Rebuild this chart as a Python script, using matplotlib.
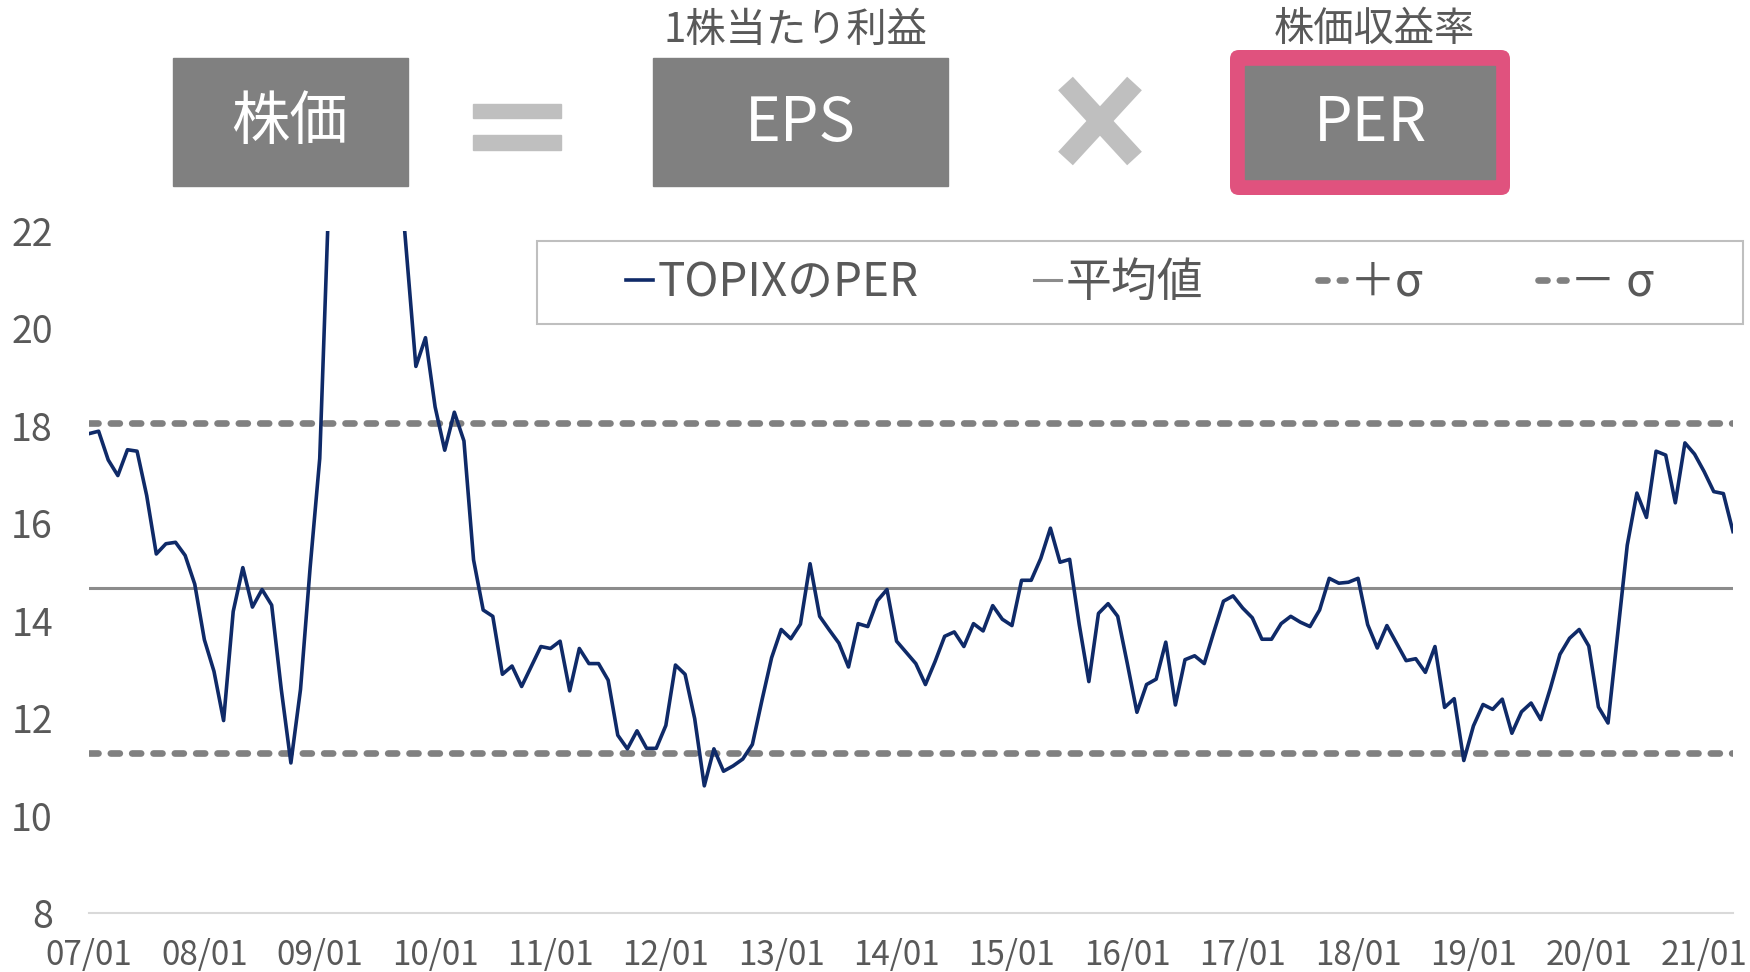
import numpy as np
import matplotlib
matplotlib.use('Agg')
import matplotlib.pyplot as plt
from matplotlib.patches import Rectangle, FancyBboxPatch
from matplotlib.lines import Line2D

plt.rcParams['font.family'] = ['Noto Sans CJK JP', 'DejaVu Sans']

#----data (monthly, 2007/01 - 2021/04)----#
per_values = [
    17.84, 17.89, 17.30, 16.98, 17.51, 17.48, 16.57, 15.37, 15.58, 15.61, 15.34, 14.75,
    13.61, 12.96, 11.95, 14.19, 15.09, 14.28, 14.64, 14.32, 12.59, 11.08, 12.59, 15.09,
    17.33, 23.0, 30.0, 42.0, 55.0, 48.0, 38.0, 30.0, 24.0, 21.6, 19.22, 19.81,
    18.39, 17.50, 18.28, 17.69, 15.25, 14.22, 14.09, 12.90, 13.07, 12.65, 13.06, 13.47,
    13.43, 13.58, 12.56, 13.43, 13.12, 13.12, 12.78, 11.65, 11.37, 11.74, 11.38, 11.38,
    11.85, 13.09, 12.90, 11.99, 10.61, 11.37, 10.91, 11.02, 11.16, 11.46, 12.37, 13.24,
    13.82, 13.63, 13.93, 15.17, 14.09, 13.81, 13.54, 13.05, 13.94, 13.88, 14.41, 14.64,
    13.58, 13.35, 13.12, 12.69, 13.16, 13.68, 13.77, 13.47, 13.94, 13.79, 14.31, 14.03,
    13.90, 14.83, 14.83, 15.28, 15.90, 15.20, 15.26, 13.92, 12.75, 14.15, 14.35, 14.09,
    13.12, 12.12, 12.69, 12.80, 13.56, 12.27, 13.20, 13.28, 13.12, 13.77, 14.40, 14.51,
    14.26, 14.06, 13.62, 13.62, 13.94, 14.09, 13.97, 13.88, 14.22, 14.87, 14.77, 14.79,
    14.87, 13.92, 13.44, 13.90, 13.54, 13.18, 13.22, 12.94, 13.47, 12.22, 12.40, 11.13,
    11.84, 12.28, 12.18, 12.39, 11.69, 12.13, 12.31, 11.97, 12.61, 13.31, 13.64, 13.82,
    13.48, 12.23, 11.90, 13.72, 15.55, 16.62, 16.12, 17.48, 17.40, 16.42, 17.65, 17.42,
    17.06, 16.65, 16.61, 15.83,
]
year_labels = ['07/01', '08/01', '09/01', '10/01', '11/01', '12/01', '13/01', '14/01',
               '15/01', '16/01', '17/01', '18/01', '19/01', '20/01', '21/01']
per_mean = 14.67
per_sigma = 3.39
y_ticks = [8, 10, 12, 14, 16, 18, 20, 22]
legend_labels = ['TOPIXのPER', '平均値', '＋σ', '－ σ']

#----figure and main chart----#
W, H = 1750, 972
fig = plt.figure(figsize=(17.5, 9.72), dpi=100)
ax = fig.add_axes([89 / W, (H - 913) / H, (1733 - 89) / W, (913 - 231) / H])

x = np.arange(len(per_values))
line_per, = ax.plot(x, per_values, color='#0f2a68', lw=2.6, zorder=4)
line_mean = ax.axhline(per_mean, color='#8c8c8c', lw=2.2, zorder=2)
line_up = ax.axhline(per_mean + per_sigma, color='#808080', lw=4.8,
                     linestyle=(0, (1.35, 1.85)), dash_capstyle='round', zorder=3)
line_dn = ax.axhline(per_mean - per_sigma, color='#808080', lw=4.8,
                     linestyle=(0, (1.35, 1.85)), dash_capstyle='round', zorder=3)

ax.set_xlim(0, len(per_values) - 1)
ax.set_ylim(8, 22)
ax.set_xticks(np.arange(0, len(per_values), 12)[:len(year_labels)])
ax.set_xticklabels(year_labels)
ax.set_yticks(y_ticks)
ax.tick_params(axis='both', length=0, colors='#595959')
ax.tick_params(axis='y', pad=26, labelsize=27)
ax.tick_params(axis='x', pad=18, labelsize=24)
for s in ['left', 'top', 'right']:
    ax.spines[s].set_visible(False)
ax.spines['bottom'].set_color('#d9d9d9')
ax.spines['bottom'].set_linewidth(1.5)

ax.legend([line_per, line_mean, line_up, line_dn], legend_labels,
          loc='center', bbox_to_anchor=((537 + 1743) / 2 / W, 1 - 282.5 / H),
          bbox_transform=fig.transFigure, ncol=4, frameon=False, fontsize=33,
          handlelength=0.6, handletextpad=0.1, columnspacing=2.5, labelcolor='#595959')

#----formula banner on top (pixel coords)----#
ov = fig.add_axes([0, 0, 1, 1])
ov.set_xlim(0, W)
ov.set_ylim(H, 0)
ov.axis('off')

ov.add_patch(Rectangle((537, 241), 1206, 83, fill=False, ec='#bfbfbf', lw=1.5))

ov.add_patch(Rectangle((173, 58), 235, 128, color='#808080'))
ov.text(290, 122, '株価', color='white', fontsize=42, ha='center', va='center')

ov.add_patch(Rectangle((473, 104), 88, 14, color='#bfbfbf'))
ov.add_patch(Rectangle((473, 135), 88, 15, color='#bfbfbf'))

ov.add_patch(Rectangle((653, 58), 295, 128, color='#808080'))
ov.text(800, 124, 'EPS', color='white', fontsize=44, ha='center', va='center')
ov.text(795, 30, '1株当たり利益', color='#595959', fontsize=29, ha='center', va='center')

ov.add_line(Line2D([1065.5, 1134.5], [83.5, 158.5], color='#bfbfbf', lw=14.4, solid_capstyle='butt'))
ov.add_line(Line2D([1134.5, 1065.5], [83.5, 158.5], color='#bfbfbf', lw=14.4, solid_capstyle='butt'))

ov.add_patch(FancyBboxPatch((1230, 50), 280, 145, boxstyle='round,pad=0,rounding_size=9',
                            fc='#e0527e', ec='none'))
ov.add_patch(Rectangle((1245, 66), 250, 113, color='#808080'))
ov.text(1370, 124, 'PER', color='white', fontsize=44, ha='center', va='center')
ov.text(1374, 29, '株価収益率', color='#595959', fontsize=29, ha='center', va='center')

fig.savefig('out.png', dpi=100)
